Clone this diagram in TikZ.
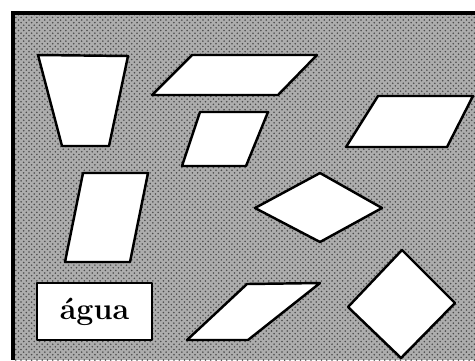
\documentclass[tikz,border=0pt]{standalone}
\usepackage{tikz}
\usetikzlibrary{patterns}

\begin{document}
\begin{tikzpicture}[
  x=0.02cm, y=-0.02cm,
  board/.style={fill=black!32},
  grain/.style={pattern=crosshatch dots, pattern color=black!70},
  frameline/.style={line width=2.2pt},
  piece/.style={fill=white, draw=black, line width=1.4pt, line join=round},
  label/.style={font=\bfseries\LARGE, inner sep=0pt}
]

% one white piece: four corners, clockwise from top-left
\newcommand{\quadpiece}[4]{%
  \draw[piece] #1 -- #2 -- #3 -- #4 -- cycle;
}

\useasboundingbox (0,0) rectangle (475,360);

% textured board, open to the right and below
\fill[board] (13,13) rectangle (475,360);
\fill[grain] (13,13) rectangle (475,360);
\draw[frameline] (475,13) -- (13,13) -- (13,360);

% top row
\quadpiece{(38,55)}{(128,56)}{(109,146)}{(62,146)}
\quadpiece{(192,55)}{(317,55)}{(278,95)}{(152,95)}
\quadpiece{(200,112)}{(268,112)}{(246,166)}{(182,166)}
\quadpiece{(378,96)}{(473,96)}{(447,147)}{(346,147)}

% middle row
\quadpiece{(83,173)}{(148,173)}{(130,262)}{(65,262)}
\quadpiece{(320,173)}{(382,208)}{(320,242)}{(255,208)}

% bottom row
\quadpiece{(247,284)}{(320,283)}{(248,340)}{(187,340)}
\quadpiece{(402,250)}{(455,303)}{(401,358)}{(348,307)}

% word card
\draw[piece] (37,283) rectangle (152,340);
\node[label] (word) at (94.5,312) {água};

\end{tikzpicture}
\end{document}
